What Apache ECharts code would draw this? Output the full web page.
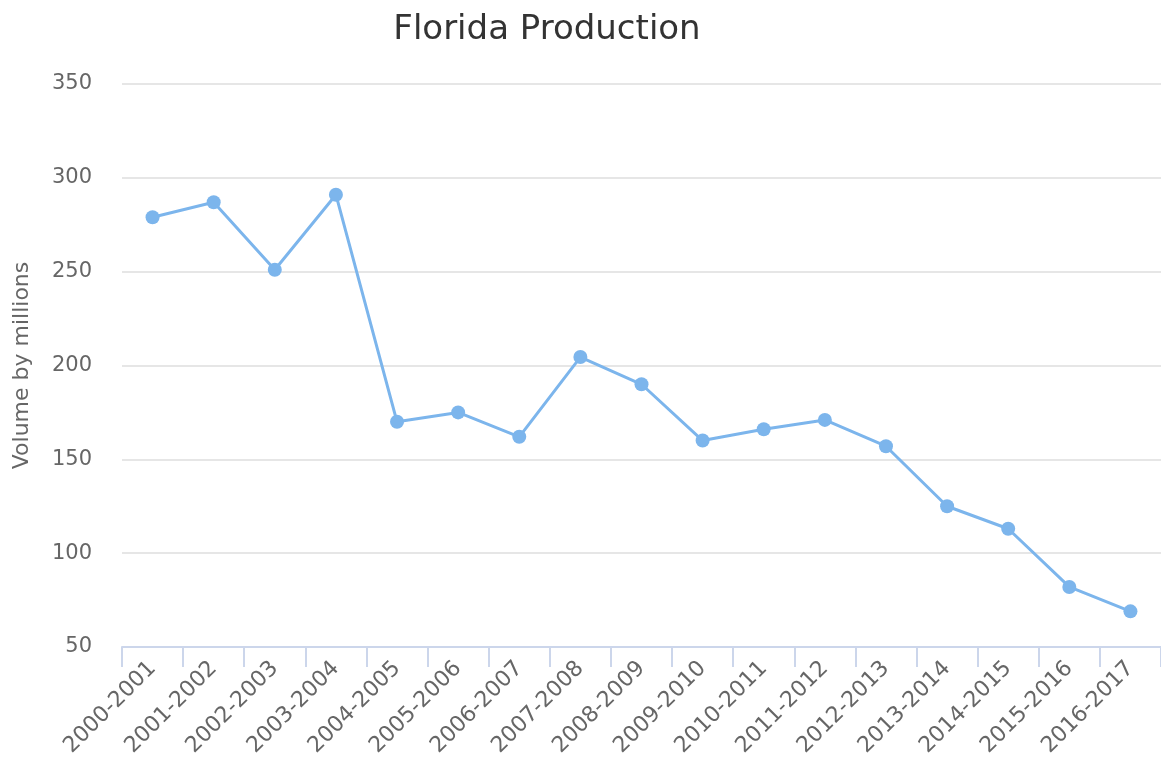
<!DOCTYPE html>
<html>
<head>
<meta charset="utf-8">
<script src="https://cdn.jsdelivr.net/npm/echarts@6/dist/echarts.min.js"></script>
<style>html,body{margin:0;padding:0;background:#fff}#c{width:1161px;height:766px}</style>
</head>
<body>
<div id="c"></div>
<script>
const categories = ["2000-2001","2001-2002","2002-2003","2003-2004","2004-2005","2005-2006","2006-2007","2007-2008","2008-2009","2009-2010","2010-2011","2011-2012","2012-2013","2013-2014","2014-2015","2015-2016","2016-2017"];
const production = [279, 287, 251, 291, 170, 175, 162, 204.5, 190, 160, 166, 171, 157, 125, 113, 82, 69];
const yTicks = [50, 350, 50]; // min, max, interval
const titleText = "Florida Production";
const yAxisName = "Volume by millions";

const chart = echarts.init(document.getElementById('c'));
chart.setOption({
  animation: false,
  backgroundColor: '#fff',
  title: {
    text: titleText,
    left: 542, top: 8, textAlign: 'center',
    textStyle: { fontFamily: 'DejaVu Sans', fontSize: 34, fontWeight: 'normal', color: '#333' }
  },
  grid: { left: 122, top: 84, width: 1042, height: 563 },
  xAxis: {
    type: 'category',
    data: categories,
    boundaryGap: true,
    axisLine: { lineStyle: { color: '#ccd6eb', width: 2 } },
    axisTick: { show: true, length: 20, lineStyle: { color: '#ccd6eb', width: 2 } },
    axisLabel: { rotate: 45, interval: 0, margin: 18, fontFamily: 'DejaVu Sans', fontSize: 22, color: '#666' },
    splitLine: { show: false }
  },
  yAxis: {
    type: 'value',
    min: yTicks[0], max: yTicks[1], interval: yTicks[2],
    name: yAxisName,
    nameLocation: 'middle',
    nameGap: 89,
    nameRotate: 90,
    nameTextStyle: { fontFamily: 'DejaVu Sans', fontSize: 22, color: '#666' },
    axisLine: { show: false },
    axisTick: { show: false },
    axisLabel: { margin: 30, fontFamily: 'DejaVu Sans', fontSize: 21, color: '#666' },
    splitLine: { lineStyle: { color: '#e6e6e6', width: 2 } }
  },
  series: [{
    type: 'line',
    data: production,
    symbol: 'circle',
    symbolSize: 14,
    lineStyle: { color: '#7cb5ec', width: 3 },
    itemStyle: { color: '#7cb5ec' }
  }]
});
</script>
</body>
</html>
